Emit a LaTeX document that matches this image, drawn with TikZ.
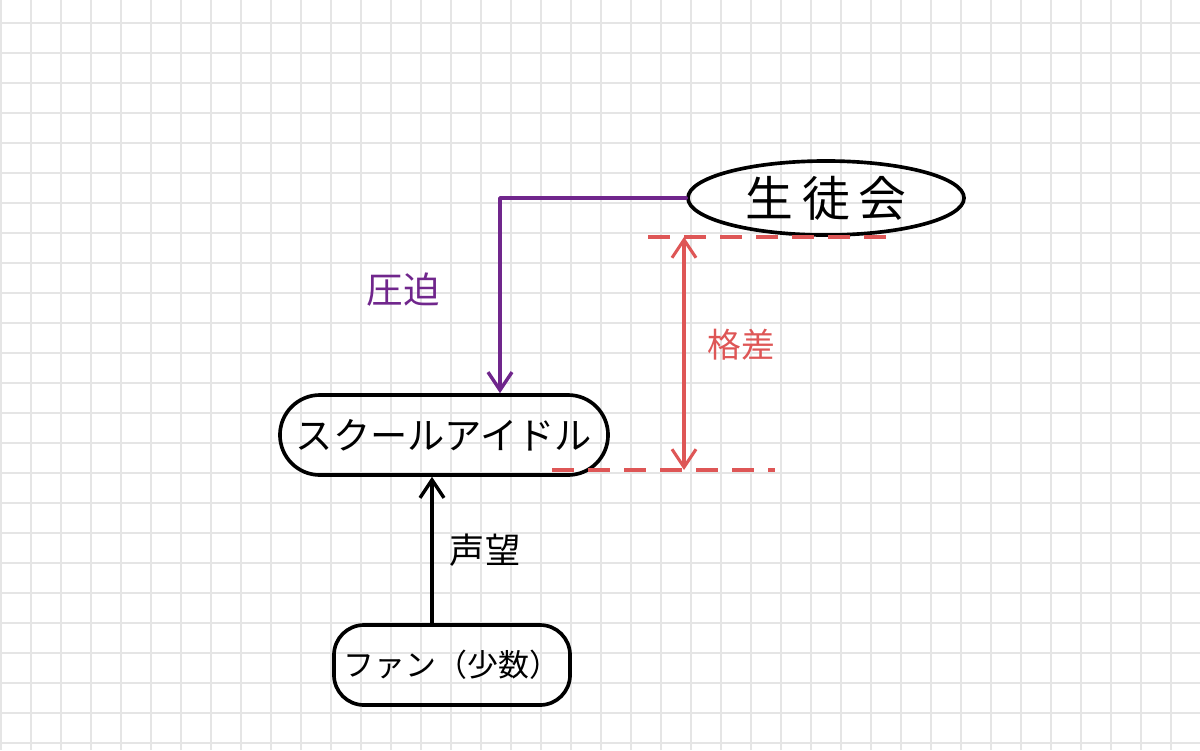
\documentclass[tikz,border=0pt]{standalone}
\usepackage{fontspec}
\newfontfamily\jpfont{Noto Sans CJK JP}
\usetikzlibrary{arrows.meta,positioning,shapes.geometric}
\definecolor{gridGray}{RGB}{229,229,229}
\definecolor{pressPurple}{RGB}{112,38,140}
\definecolor{gapRed}{RGB}{222,86,86}

\begin{document}
\begin{tikzpicture}[x=0.025cm,y=-0.025cm,
    pen/.style={line width=2.6pt, line cap=round, line join=round},
    barb/.style={-{Straight Barb[length=0.45cm,width=0.6cm,line width=2.4pt]}},
    bubble/.style={draw, pen, inner sep=0pt, minimum height=2cm},
    gapline/.style={gapRed, line width=2.2pt, dash pattern=on 0.55cm off 0.35cm}]
    \useasboundingbox (0,0) rectangle (1200,750);

    % grid paper
    \foreach \gx in {1,31,...,1200}
        \draw[gridGray, line width=0.8pt] (\gx,0) -- (\gx,750);
    \foreach \gy in {23,53,...,750}
        \draw[gridGray, line width=0.8pt] (0,\gy) -- (1200,\gy);

    % the three groups
    \node[bubble, ellipse, minimum width=6.9cm, minimum height=1.85cm,
          font=\jpfont\fontsize{34pt}{38pt}\selectfont\addfontfeature{LetterSpace=18}] (seito) at (826,198) {生徒会};
    \node[bubble, rounded corners=1cm, minimum width=8.2cm,
          font=\jpfont\fontsize{26.5pt}{30pt}\selectfont] (idol) at (444,435) {スクールアイドル};
    \node[bubble, rounded corners=0.75cm, minimum width=5.9cm,
          font=\jpfont\fontsize{22pt}{26pt}\selectfont] (fan) at (452,665) {ファン（少数）};

    % pressure from the council
    \draw[pen, pressPurple, barb] (seito.west) -| ([xshift=1.4cm]idol.north);
    \node[text=pressPurple, font=\jpfont\fontsize{26pt}{28pt}\selectfont] (press) at (403,290) {圧迫};

    % support from the fans
    \coordinate (fameTop) at ([xshift=-0.3cm]idol.south);
    \draw[pen, barb] (fan.north -| fameTop) -- (fameTop);
    \node[font=\jpfont\fontsize{25pt}{28pt}\selectfont] (fame) at (485,550) {声望};

    % gap between the two levels
    \coordinate (gapTop) at (684,237);
    \coordinate (gapBot) at (684,470);
    \coordinate (topL) at (648,237);
    \coordinate (topR) at (900,237);
    \coordinate (botL) at (552,470);
    \coordinate (botR) at (775,470);
    \draw[gapline] (topL) -- (topR);
    \draw[gapline] (botL) -- (botR);
    \draw[pen, gapRed, line width=2.2pt, {Straight Barb[length=0.45cm,width=0.6cm,line width=2.2pt]}-{Straight Barb[length=0.45cm,width=0.6cm,line width=2.2pt]}] (gapTop) -- (gapBot);
    \node[text=gapRed, font=\jpfont\fontsize{24pt}{26pt}\selectfont] (gap) at (741,345) {格差};
\end{tikzpicture}
\end{document}
